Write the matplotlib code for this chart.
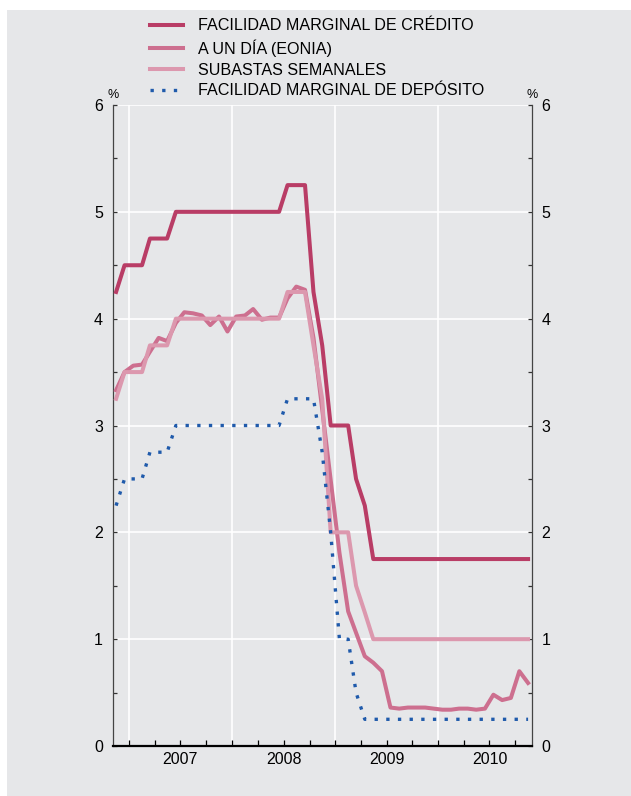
import matplotlib
matplotlib.use("Agg")
import matplotlib.pyplot as plt
import matplotlib.dates as mdates
from matplotlib.patches import Rectangle
from matplotlib.ticker import MultipleLocator, FuncFormatter
import pandas as pd

plt.rcParams["font.family"] = ["Liberation Sans", "DejaVu Sans"]

# monthly data, Nov 2006 - Nov 2010
months = pd.date_range("2006-11-01", "2010-11-01", freq="MS") + pd.Timedelta(days=14)

credito = [4.25,
           4.5, 4.5, 4.5, 4.75, 4.75, 4.75, 5.0, 5.0, 5.0, 5.0, 5.0, 5.0, 5.0,
           5.0, 5.0, 5.0, 5.0, 5.0, 5.0, 5.25, 5.25, 5.25, 4.25, 3.75, 3.0,
           3.0, 3.0, 2.5, 2.25, 1.75, 1.75, 1.75, 1.75, 1.75, 1.75, 1.75, 1.75,
           1.75, 1.75, 1.75, 1.75, 1.75, 1.75, 1.75, 1.75, 1.75, 1.75, 1.75]
eonia = [3.33,
         3.50, 3.56, 3.57, 3.69, 3.82, 3.79, 3.96, 4.06, 4.05, 4.03, 3.94, 4.02, 3.88,
         4.02, 4.03, 4.09, 3.99, 4.01, 4.01, 4.19, 4.30, 4.27, 3.82, 3.15, 2.49,
         1.81, 1.26, 1.06, 0.84, 0.78, 0.70, 0.36, 0.35, 0.36, 0.36, 0.36, 0.35,
         0.34, 0.34, 0.35, 0.35, 0.34, 0.35, 0.48, 0.43, 0.45, 0.70, 0.59]
subastas = [3.25,
            3.5, 3.5, 3.5, 3.75, 3.75, 3.75, 4.0, 4.0, 4.0, 4.0, 4.0, 4.0, 4.0,
            4.0, 4.0, 4.0, 4.0, 4.0, 4.0, 4.25, 4.25, 4.25, 3.75, 3.25, 2.0,
            2.0, 2.0, 1.5, 1.25, 1.0, 1.0, 1.0, 1.0, 1.0, 1.0, 1.0, 1.0,
            1.0, 1.0, 1.0, 1.0, 1.0, 1.0, 1.0, 1.0, 1.0, 1.0, 1.0]
deposito = [2.25,
            2.5, 2.5, 2.5, 2.75, 2.75, 2.75, 3.0, 3.0, 3.0, 3.0, 3.0, 3.0, 3.0,
            3.0, 3.0, 3.0, 3.0, 3.0, 3.0, 3.25, 3.25, 3.25, 3.25, 2.75, 2.0,
            1.0, 1.0, 0.5, 0.25, 0.25, 0.25, 0.25, 0.25, 0.25, 0.25, 0.25, 0.25,
            0.25, 0.25, 0.25, 0.25, 0.25, 0.25, 0.25, 0.25, 0.25, 0.25, 0.25]

labels = ["FACILIDAD MARGINAL DE CRÉDITO", "A UN DÍA (EONIA)",
          "SUBASTAS SEMANALES", "FACILIDAD MARGINAL DE DEPÓSITO"]

BG = "#e6e7e9"
C_CRED = "#b93d66"
C_EONIA = "#cd6f8f"
C_SUB = "#dc98ae"
C_DEP = "#1f5aab"

fig = plt.figure(figsize=(6.31, 7.96), dpi=100)
fig.patch.set_facecolor("white")
fig.add_artist(Rectangle((7 / 631, 0), 1, 786 / 796, transform=fig.transFigure,
                         facecolor=BG, edgecolor="none", zorder=0))

ax = fig.add_axes([0.1786, 0.0628, 0.6641, 0.8053])
ax.set_facecolor(BG)

l_eonia, = ax.plot(months, eonia, color=C_EONIA, lw=2.9, zorder=3, label=labels[1])
l_sub, = ax.plot(months, subastas, color=C_SUB, lw=2.9, zorder=4, label=labels[2])
l_cred, = ax.plot(months, credito, color=C_CRED, lw=2.9, zorder=5, label=labels[0])
l_dep, = ax.plot(months, deposito, color=C_DEP, lw=2.4, zorder=6,
                 linestyle=(0, (1, 2.5)), dash_capstyle="butt", label=labels[3])

ax.set_ylim(0, 6)
ax.set_xlim(pd.Timestamp("2006-11-03"), pd.Timestamp("2010-11-28"))

# y axis
ax.yaxis.set_major_locator(MultipleLocator(1))
ax.yaxis.set_minor_locator(MultipleLocator(0.5))
ax.tick_params(axis="y", which="both", direction="in", length=3.2, width=0.9,
               left=True, right=True, labelleft=True, labelright=True,
               labelsize=11.5, color="#333333")
ax.tick_params(axis="y", which="major", pad=7)

# x axis
ax.xaxis.set_major_locator(mdates.YearLocator())
ax.xaxis.set_major_formatter(FuncFormatter(lambda v, p: ""))
ax.xaxis.set_minor_locator(mdates.MonthLocator(bymonth=[4, 7, 10]))
ax.xaxis.set_minor_formatter(
    FuncFormatter(lambda v, p: str(mdates.num2date(v).year) if mdates.num2date(v).month == 7 else ""))
ax.tick_params(axis="x", which="both", direction="in", length=4.5, width=0.9,
               labelsize=11.5, pad=4, color="black")

ax.grid(True, which="major", color="white", lw=1.2, zorder=1)
ax.set_axisbelow(True)

for side in ["left", "right"]:
    ax.spines[side].set_color("#444444")
    ax.spines[side].set_linewidth(0.9)
ax.spines["top"].set_visible(False)
ax.spines["bottom"].set_color("black")
ax.spines["bottom"].set_linewidth(1.6)

ax.text(0, 1.0156, "%", transform=ax.transAxes, ha="center", va="center", fontsize=9)
ax.text(1, 1.0156, "%", transform=ax.transAxes, ha="center", va="center", fontsize=9)

fig.legend([l_cred, l_eonia, l_sub, l_dep], labels, loc="upper left",
           bbox_to_anchor=(150 / 631, 1 - 18.5 / 796), frameon=False, fontsize=11.6,
           handlelength=2.05, handletextpad=0.95, labelspacing=0.36, borderpad=0,
           borderaxespad=0)

fig.savefig("out.png", dpi=100, facecolor=fig.get_facecolor())
